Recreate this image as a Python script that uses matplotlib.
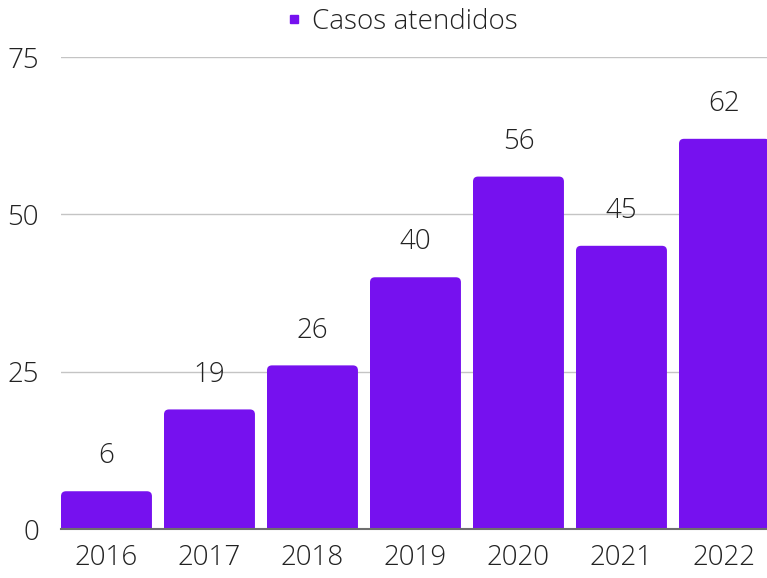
import matplotlib.pyplot as plt
from matplotlib.patches import FancyBboxPatch
from matplotlib.lines import Line2D

years = ["2016", "2017", "2018", "2019", "2020", "2021", "2022"]
casos = [6, 19, 26, 40, 56, 45, 62]
purple = "#7611EF"

plt.rcParams['font.family'] = ['Open Sans', 'DejaVu Sans']

fig = plt.figure(figsize=(7.67, 5.78), dpi=100)
ax = fig.add_axes([61 / 767, 49 / 578, 706 / 767, 472 / 578])

width = 0.883
x = list(range(len(years)))
bars = ax.bar(x, casos, width=width, color=purple)

# swap plain rects for rounded-top ones
xpx = 103.0
ypx = 472 / 75
for rect in bars:
    rect.set_visible(False)
    r = 5 / xpx
    p = FancyBboxPatch((rect.get_x(), -2), rect.get_width(), rect.get_height() + 2,
                       boxstyle="round,pad=0,rounding_size=%f" % r,
                       mutation_aspect=xpx / ypx,
                       facecolor=purple, edgecolor="none")
    ax.add_patch(p)

ax.bar_label(bars, labels=[str(v) for v in casos], padding=15,
             fontsize=20, fontweight='light', color="#222222")

ax.set_xlim(-width / 2, -width / 2 + 706 / xpx)
ax.set_ylim(0, 75)
ax.set_yticks([0, 25, 50, 75])
ax.set_xticks(x)
ax.set_xticklabels(years)
ax.yaxis.grid(True, color="#c4c4c4", linewidth=1)
ax.set_axisbelow(True)
for s in ["top", "right", "left"]:
    ax.spines[s].set_visible(False)
ax.spines["bottom"].set_color("#6e6e6e")
ax.spines["bottom"].set_linewidth(1.5)
ax.spines["bottom"].set_zorder(5)
ax.tick_params(axis="both", length=0, labelsize=20, labelcolor="#222222")
ax.tick_params(axis="y", pad=16)
ax.tick_params(axis="x", pad=11)
for lab in ax.get_xticklabels() + ax.get_yticklabels():
    lab.set_fontweight('light')

handle = Line2D([], [], marker="s", color=purple, linestyle="none", markersize=6)
leg = fig.legend([handle], ["Casos atendidos"], loc="center",
                 bbox_to_anchor=(0.525, 0.962), frameon=False,
                 prop={"size": 20, "weight": "light"},
                 handlelength=0.5, handletextpad=0.4)
for t in leg.get_texts():
    t.set_color("#222222")

fig.savefig("out.png", dpi=100)
